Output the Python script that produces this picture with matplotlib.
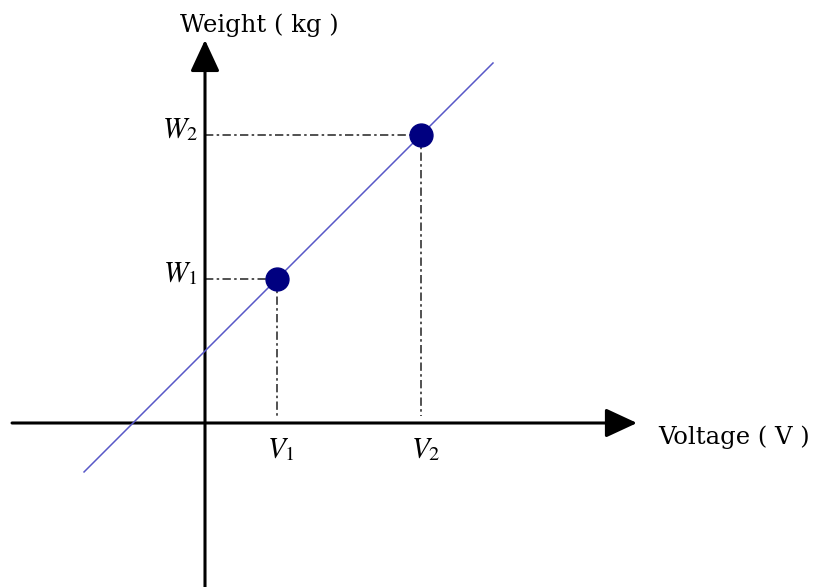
import matplotlib
matplotlib.use("Agg")
import matplotlib.pyplot as plt

# calibration points (voltage, weight) in arbitrary units
volts = [1, 3]
weights = [2, 4]
point_labels_v = ["$V_1$", "$V_2$"]
point_labels_w = ["$W_1$", "$W_2$"]

# fitted calibration line, endpoints as drawn
line_v = [-1.68, 4.0]
line_w = [-0.68, 5.0]

# axis extents (start, arrow tip)
x_axis = (-2.68, 6.0)
y_axis = (-2.35, 5.32)

x_title = "Voltage ( V )"
y_title = "Weight ( kg )"

plt.rcParams["mathtext.fontset"] = "stix"
serif = ["DejaVu Serif"]

fig = plt.figure(figsize=(8.21, 5.87), dpi=100)
ax = fig.add_axes([0, 0, 1, 1])
ax.set_xlim(-205 / 72, 616 / 72)
ax.set_ylim(-164 / 72, 423 / 72)
ax.axis("off")

arrow = dict(arrowstyle="-|>,head_length=0.97,head_width=0.45", lw=2.2,
             color="black", mutation_scale=20, shrinkA=0, shrinkB=0)
ax.annotate("", xy=(x_axis[1], 0), xytext=(x_axis[0], 0), arrowprops=arrow)
ax.annotate("", xy=(0, y_axis[1]), xytext=(0, y_axis[0]), arrowprops=arrow)

ax.plot(line_v, line_w, color="#5858c8", lw=1.1, zorder=3)

dash = (0, (5, 2, 1.5, 2))
for v, w in zip(volts, weights):
    ax.plot([0, v], [w, w], color="#333333", lw=1.2, ls=dash, zorder=2)
    ax.plot([v, v], [w, 0.1], color="#333333", lw=1.2, ls=dash, zorder=2)
ax.plot(volts, weights, "o", color="#000080", ms=16.5, zorder=4)

for v, lab in zip(volts, point_labels_v):
    ax.text(v + 0.06, -0.36, lab, ha="center", va="center", fontsize=21)
for w, lab in zip(weights, point_labels_w):
    ax.text(-0.1, w + 0.08, lab, ha="right", va="center", fontsize=21)

ax.text(6.29, -0.2, x_title, ha="left", va="center", fontsize=17.5, family=serif)
ax.text(-0.35, 5.53, y_title, ha="left", va="center", fontsize=17.5, family=serif)

fig.savefig("out.png", dpi=100)
